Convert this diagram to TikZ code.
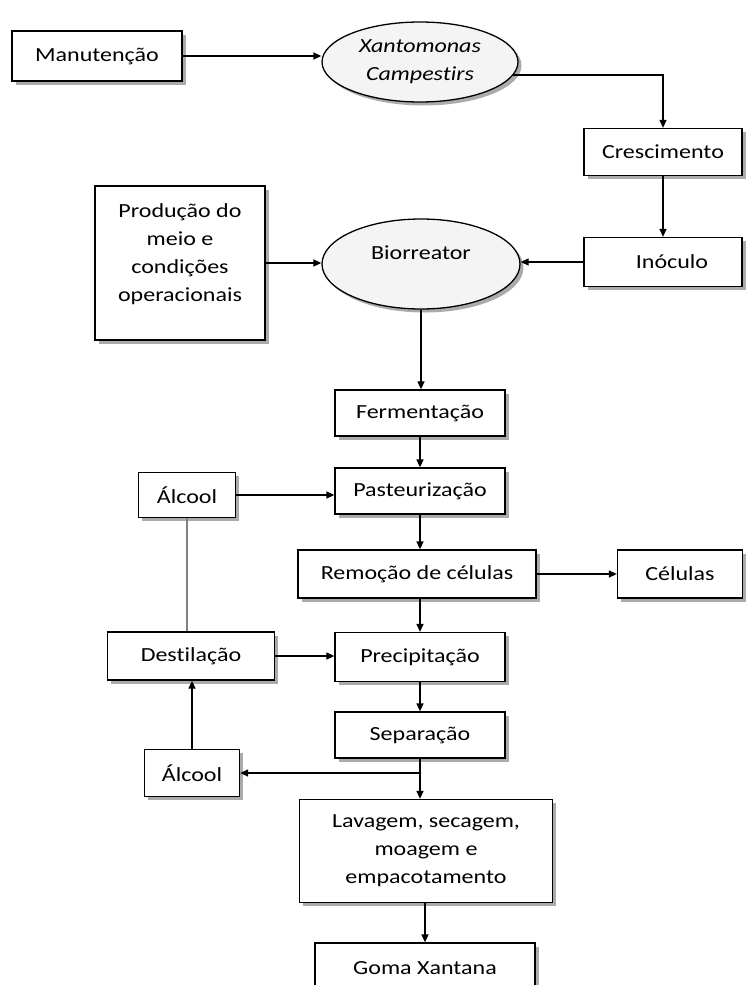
\documentclass[tikz,border=0pt]{standalone}
\usepackage{fontspec}
\setmainfont{Carlito}[FakeStretch=1.2,Ligatures=NoCommon]
\usetikzlibrary{shapes.geometric,shadows,arrows.meta}
\begin{document}
\begin{tikzpicture}[x=1pt,y=-1pt,
  font=\fontsize{20}{28}\selectfont,
  shad/.style={drop shadow={shadow xshift=3.5pt,shadow yshift=-3.5pt,fill=black!55,opacity=0.6}},
  box/.style={draw,line width=1.3pt,fill=white,rectangle,inner sep=0pt,shad,align=center},
  ell/.style={draw,line width=1.3pt,fill=gray!9,ellipse,inner sep=0pt,shad,align=center},
  arr/.style={line width=1.3pt,-{Triangle[length=8pt,width=7pt]}},
  plain/.style={line width=1.3pt}]
\useasboundingbox (0,0) rectangle (746,985);
\clip (0,0) rectangle (746,985);
\fill[white] (0,0) rectangle (746,985);

\node[box,minimum width=170pt,minimum height=50pt] (man) at (97,56) {Manutenção};
\node[ell,minimum width=196pt,minimum height=80pt] (xan) at (420,62) {\itshape Xantomonas\\\itshape Campestirs};
\node[box,minimum width=158pt,minimum height=47pt] (cres) at (663,152) {Crescimento};
\node[box,minimum width=158pt,minimum height=49pt] (ino) at (663,262) {\hspace*{18pt}Inóculo};
\node[ell,minimum width=198pt,minimum height=90pt] (bio) at (421,264) {};
\node (biotxt) at (421,253) {Biorreator};
\node[box,minimum width=170pt,minimum height=154pt] (prod) at (180,263) {};
\node[align=center] (prodtxt) at (180,254) {Produção do\\meio e\\condições\\operacionais};
\node[box,minimum width=170pt,minimum height=46pt] (ferm) at (420,413) {Fermentação};
\node[box,minimum width=170pt,minimum height=46pt] (past) at (420,491) {Pasteurização};
\node[box,minimum width=97pt,minimum height=45pt] (alc1) at (187,495) {Álcool};
\node[box,minimum width=238pt,minimum height=48pt] (rem) at (417,574) {Remoção de células};
\node[box,minimum width=125pt,minimum height=48pt] (cel) at (680,574) {Células};
\node[box,minimum width=167pt,minimum height=48pt] (dest) at (191,656) {Destilação};
\node[box,minimum width=170pt,minimum height=49pt] (prec) at (420,657) {Precipitação};
\node[box,minimum width=170pt,minimum height=46pt] (sep) at (420,735) {Separação};
\node[box,minimum width=95pt,minimum height=47pt] (alc2) at (192,773) {Álcool};
\node[box,minimum width=253pt,minimum height=103pt] (lav) at (426,851) {Lavagem, secagem,\\moagem e\\empacotamento};
\node[box,minimum width=220pt,minimum height=50pt] (goma) at (425,968) {Goma Xantana};

\draw[arr] (man.east) -- (man.east -| xan.west);
\draw[arr] (xan.-8) -| (cres.north);
\draw[arr] (cres.south) -- (ino.north);
\draw[arr] (ino.west) -- (ino.west -| bio.east);
\draw[arr] (prod.east) -- (prod.east -| bio.west);
\draw[arr] (bio.south) -- (bio.south |- ferm.north);
\draw[arr] (ferm.south) -- (past.north);
\draw[arr] (alc1.east) -- (alc1.east -| past.west);
\draw[line width=1.3pt,gray] (alc1.south) -- (alc1.south |- dest.north);
\draw[arr] (past.south) -- (past.south |- rem.north);
\draw[arr] (rem.east) -- (cel.west);
\draw[arr] (rem.south -| prec.north) -- (prec.north);
\draw[arr] (dest.east) -- (dest.east -| prec.west);
\draw[arr] (prec.south) -- (sep.north);
\draw[arr] (sep.south) -- (sep.south |- lav.north);
\draw[arr] (sep.south |- alc2.east) -- (alc2.east);
\draw[arr] (alc2.north) -- (alc2.north |- dest.south);
\draw[arr] (lav.south -| goma.north) -- (goma.north);
\end{tikzpicture}
\end{document}
